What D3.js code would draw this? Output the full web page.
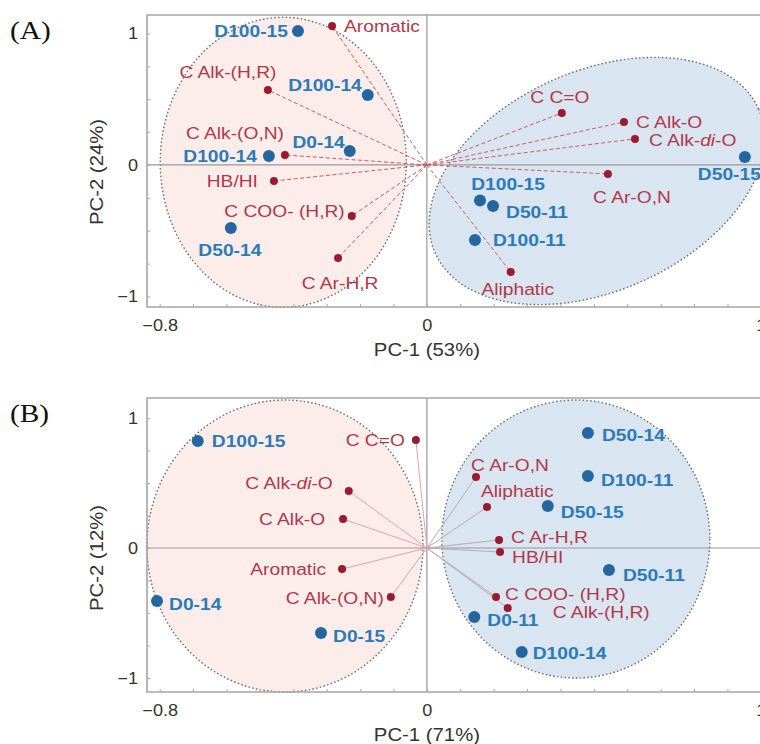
<!DOCTYPE html>
<html lang="en">
<head>
<meta charset="utf-8">
<script src="https://cdn.jsdelivr.net/npm/d3@7"></script>
<style>
  body { margin:0; padding:0; background:#fff; }
  svg { display:block; font-family: "Liberation Sans", Arial, sans-serif; }
  .tick text { font-size:16px; fill:#333; }
  .lab-load { font-size:17px; fill:#b3374a; }
  .lab-score { font-size:17px; font-weight:bold; fill:#2c7bb9; }
</style>
</head>
<body>
<script>
// ---- panel A data (PC-1 53%, PC-2 24%)
var loadNamesA = ["Aromatic","C Alk-(H,R)","C Alk-(O,N)","HB/HI","C COO- (H,R)","C Ar-H,R","C C=O","C Alk-O","C Alk-di-O","C Ar-O,N","Aliphatic"];
var loadXA = [-0.284,-0.476,-0.425,-0.458,-0.225,-0.266, 0.404, 0.590, 0.623, 0.542, 0.251];
var loadYA = [ 1.057, 0.570, 0.076,-0.122,-0.388,-0.707, 0.395, 0.327, 0.198,-0.068,-0.814];
var scoreNamesA = ["D100-15","D100-14","D0-14","D100-14","D50-14","D50-15","D100-15","D50-11","D100-11"];
var scoreXA = [-0.386,-0.177,-0.231,-0.473,-0.587, 0.952, 0.159, 0.198, 0.144];
var scoreYA = [ 1.019, 0.532, 0.106, 0.068,-0.479, 0.061,-0.270,-0.312,-0.570];

// ---- panel B data (PC-1 71%, PC-2 12%)
var loadNamesB = ["C C=O","C Alk-di-O","C Alk-O","Aromatic","C Alk-(O,N)","C Ar-O,N","Aliphatic","C Ar-H,R","HB/HI","C COO- (H,R)","C Alk-(H,R)"];
var loadXB = [-0.033,-0.234,-0.251,-0.254,-0.108, 0.147, 0.180, 0.216, 0.219, 0.207, 0.242];
var loadYB = [ 0.831, 0.438, 0.223,-0.162,-0.377, 0.546, 0.315, 0.062,-0.031,-0.377,-0.462];
var scoreNamesB = ["D100-15","D0-14","D0-15","D50-14","D100-11","D50-15","D50-11","D0-11","D100-14"];
var scoreXB = [-0.686,-0.808,-0.317, 0.482, 0.482, 0.362, 0.545, 0.142, 0.284];
var scoreYB = [ 0.823,-0.408,-0.654, 0.885, 0.554, 0.323,-0.169,-0.531,-0.800];

var xTickLabels = [-0.8, 0, 1];
var yTickLabels = [-1, 0, 1];

// label placement [dx, dy, anchor]
var loadPosA = [[12,0,"start"],[-40,-18,"middle"],[-50,-22,"middle"],[-16,0,"end"],[-7,-5,"end"],[2,25,"middle"],
                [-2,-16,"middle"],[12,0,"start"],[14,1,"start"],[24,23,"middle"],[7,17,"middle"]];
var scorePosA = [[-10,0,"end"],[-6,-10,"end"],[-5,-9,"end"],[-12,0,"end"],[-1,22,"middle"],[-47,17,"start"],
                 [28,-16,"middle"],[13,6,"start"],[18,0,"start"]];
var loadPosB = [[-11,0,"end"],[-16,-8,"end"],[-18,0,"end"],[-16,0,"end"],[-7,1,"end"],[-5,-12,"start"],
                [-6,-16,"start"],[12,-3,"start"],[12,5,"start"],[9,-3,"start"],[45,4,"start"]];
var scorePosB = [[14,0,"start"],[12,3,"start"],[12,3,"start"],[14,2,"start"],[13,4,"start"],[13,6,"start"],
                 [14,5,"start"],[13,3,"start"],[11,1,"start"]];

// groups: centre in data units, radii in px, rotation in degrees
var ellA = [{cx:-0.43, cy:0.02, rx:123, ry:145, rot:0, fill:"#fcedeb"},
            {cx:0.509, cy:-0.122, rx:177, ry:110, rot:-24, fill:"#d9e5f1"}];
var ellB = [{cx:-0.425, cy:0.015, rx:138, ry:146, rot:0, fill:"#fcedeb"},
            {cx:0.446, cy:0.069, rx:134, ry:139, rot:0, fill:"#d9e5f1"}];

var W = 760, H = 744;
var SX = 1.13; // text in the original is a little stretched horizontally
var svg = d3.select("body").append("svg").attr("width", W).attr("height", H);

function zip(names, xs, ys, pos) {
  return names.map(function(n, i){ return {name:n, x:xs[i], y:ys[i], pos:pos[i]}; });
}

function panel(opt) {
  var x = d3.scaleLinear().domain([-0.838, 1.03]).range([147, 147 + 1.868*334]);
  var y = d3.scaleLinear().domain(opt.yDomain).range(opt.yRange);
  var g = svg.append("g");
  var top = opt.yRange[1], bot = opt.yRange[0];

  // ellipses
  opt.ell.forEach(function(e){
    g.append("ellipse")
      .attr("transform", "translate(" + x(e.cx) + "," + y(e.cy) + ") rotate(" + e.rot + ")")
      .attr("rx", e.rx).attr("ry", e.ry)
      .attr("fill", e.fill)
      .attr("stroke", "#6f6f6f").attr("stroke-width", 1.4)
      .attr("stroke-dasharray", "1.6,2.2");
  });

  // zero lines
  g.append("line").attr("x1", x(0)).attr("x2", x(0)).attr("y1", top).attr("y2", bot)
    .attr("stroke", "#9a9a9a").attr("stroke-width", 1.2);
  g.append("line").attr("x1", 147).attr("x2", W).attr("y1", y(0)).attr("y2", y(0))
    .attr("stroke", "#9a9a9a").attr("stroke-width", 1.2);

  // frame (top, left, bottom)
  g.append("path")
    .attr("d", "M" + W + "," + top + "H147V" + bot + "H" + W)
    .attr("fill", "none").attr("stroke", "#a5a5a5").attr("stroke-width", 1.6);

  // minor ticks inside
  g.append("g").attr("transform", "translate(0," + bot + ")")
    .call(d3.axisBottom(x).tickValues(d3.range(-0.8, 1.05, 0.1)).tickSize(-3).tickFormat(""))
    .call(function(s){ s.select(".domain").remove(); s.selectAll("line").attr("stroke", "#aaa"); });
  g.append("g").attr("transform", "translate(147,0)")
    .call(d3.axisLeft(y).tickValues(d3.range(-1, 1.01, 0.25)).tickSize(-3).tickFormat(""))
    .call(function(s){ s.select(".domain").remove(); s.selectAll("line").attr("stroke", "#aaa"); });

  // tick labels
  g.append("g").attr("transform", "translate(0," + bot + ")")
    .call(d3.axisBottom(x).tickValues(xTickLabels).tickSize(0).tickPadding(13).tickFormat(d3.format("")))
    .call(function(s){ s.select(".domain").remove(); s.selectAll("text").attr("transform", "scale(" + SX + ",1)"); });
  g.append("g").attr("transform", "translate(147,0)")
    .call(d3.axisLeft(y).tickValues(yTickLabels).tickSize(0).tickPadding(8).tickFormat(d3.format("")))
    .call(function(s){ s.select(".domain").remove(); s.selectAll("text").attr("transform", "scale(" + SX + ",1)"); });

  // axis titles
  g.append("text").attr("transform", "translate(" + x(0) + "," + (bot + 49) + ") scale(" + SX + ",1)")
    .attr("text-anchor", "middle").attr("font-size", 18).attr("fill", "#333").text(opt.xTitle);
  g.append("text").attr("transform", "translate(103," + opt.yTitleY + ") rotate(-90) scale(" + SX + ",1)")
    .attr("text-anchor", "middle").attr("font-size", 18).attr("fill", "#333").text(opt.yTitle);

  // panel letter
  g.append("text").attr("transform", "translate(10," + opt.letterY + ") scale(" + SX + ",1)")
    .attr("font-family", "'Liberation Serif', 'Times New Roman', serif").attr("font-size", 26)
    .attr("fill", "#111").text(opt.letter);

  var loads = opt.loads, scores = opt.scores;

  // loading vectors
  g.selectAll(".vec").data(loads).enter().append("line")
    .attr("x1", x(0)).attr("y1", y(0))
    .attr("x2", function(d){ return x(d.x); }).attr("y2", function(d){ return y(d.y); })
    .attr("stroke", function(d){ return opt.vecColor(d); })
    .attr("stroke-width", 1)
    .attr("stroke-dasharray", opt.vecDash);

  g.selectAll(".ld").data(loads).enter().append("circle")
    .attr("cx", function(d){ return x(d.x); }).attr("cy", function(d){ return y(d.y); })
    .attr("r", 4).attr("fill", "#9c1a30");

  g.selectAll(".sc").data(scores).enter().append("circle")
    .attr("cx", function(d){ return x(d.x); }).attr("cy", function(d){ return y(d.y); })
    .attr("r", 6).attr("fill", "#2467a0");

  function addLabel(sel, cls) {
    sel.enter().append("text").attr("class", cls)
      .attr("transform", function(d){
        return "translate(" + (x(d.x) + d.pos[0]) + "," + (y(d.y) + d.pos[1]) + ") scale(" + SX + ",1)";
      })
      .attr("dy", "0.35em")
      .attr("text-anchor", function(d){ return d.pos[2]; })
      .each(function(d){
        var t = d3.select(this);
        if (d.name.indexOf("-di-") >= 0) {
          var parts = d.name.split("di");
          t.append("tspan").text(parts[0]);
          t.append("tspan").attr("font-style", "italic").text("di");
          t.append("tspan").text(parts[1]);
        } else {
          t.text(d.name);
        }
      });
  }
  addLabel(g.selectAll(".ll").data(loads), "lab-load");
  addLabel(g.selectAll(".sl").data(scores), "lab-score");
}

panel({
  letter: "(A)", letterY: 39,
  yDomain: [-1.08, 1.14], yRange: [307, 15],
  xTitle: "PC-1 (53%)", yTitle: "PC-2 (24%)", yTitleY: 172,
  ell: ellA,
  loads: zip(loadNamesA, loadXA, loadYA, loadPosA),
  scores: zip(scoreNamesA, scoreXA, scoreYA, scorePosA),
  vecDash: "4,2.5",
  vecColor: function(d){ return "#cf5a66"; }
});

panel({
  letter: "(B)", letterY: 422,
  yDomain: [-1.108, 1.154], yRange: [692, 398],
  xTitle: "PC-1 (71%)", yTitle: "PC-2 (12%)", yTitleY: 558,
  ell: ellB,
  loads: zip(loadNamesB, loadXB, loadYB, loadPosB),
  scores: zip(scoreNamesB, scoreXB, scoreYB, scorePosB),
  vecDash: null,
  vecColor: function(d){ return d.x < 0 ? "#e3a3a8" : "#b9a9b4"; }
});
</script>
</body>
</html>
